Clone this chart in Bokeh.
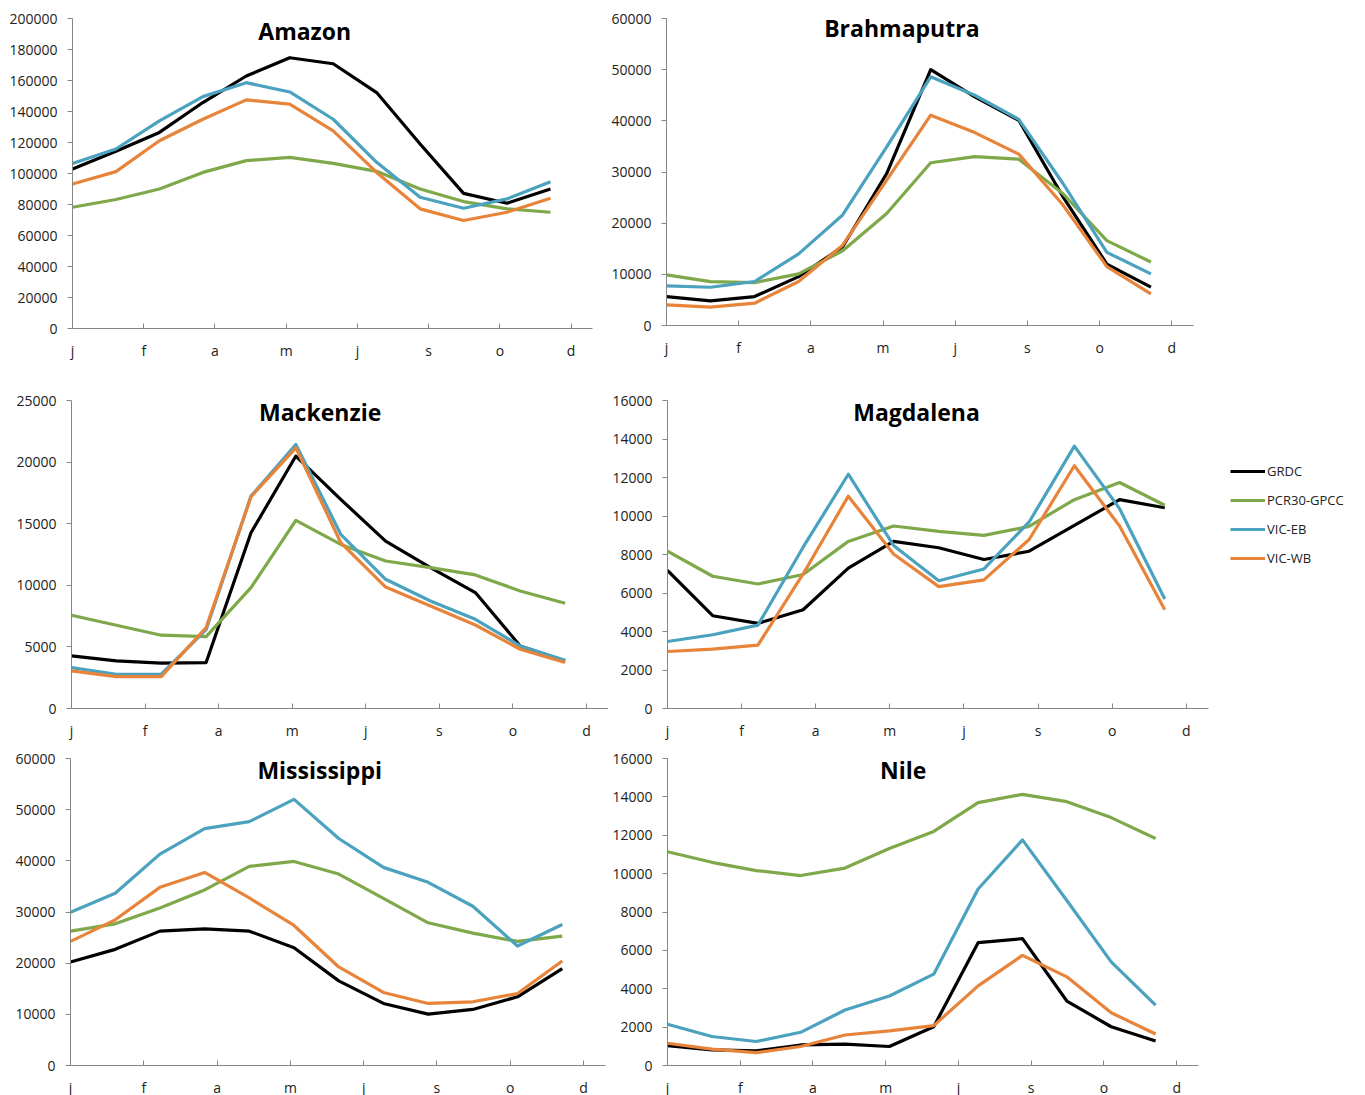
from bokeh.plotting import figure
from bokeh.layouts import column, row
from bokeh.models import FixedTicker, NumeralTickFormatter, Label, Legend, LegendItem, Range1d
from bokeh.embed import file_html
from bokeh.resources import INLINE

# ---------------- data ----------------
month_pos = [0, 30.5, 61, 91.5, 122, 152.5, 183, 213.5, 244, 274.5, 305, 335.5]
tick_days = [0, 50, 100, 150, 200, 250, 300, 350]
tick_letters = ["j", "f", "a", "m", "j", "s", "o", "d"]
series_names = ["GRDC", "PCR30-GPCC", "VIC-EB", "VIC-WB"]
series_colors = ["#000000", "#7FA84A", "#4BA2BF", "#E8843A"]

amazon_grdc = [102900, 114300, 126500, 145800, 162900, 174700, 170800, 152200, 119000, 87200, 80800, 90000]
amazon_pcr = [78200, 83200, 90000, 100700, 108300, 110400, 106500, 101400, 90000, 81900, 77200, 75000]
amazon_eb = [106500, 115800, 134000, 149600, 158600, 152600, 135000, 107200, 84700, 77600, 83600, 94700]
amazon_wb = [93200, 101200, 121100, 135000, 147500, 144700, 127500, 100700, 77200, 69700, 75000, 84000]

brahma_grdc = [5660, 4800, 5660, 9560, 15400, 29700, 50000, 44700, 40100, 25200, 12000, 7500]
brahma_pcr = [9890, 8590, 8390, 10100, 14600, 21900, 31800, 33000, 32500, 25800, 16600, 12400]
brahma_eb = [7740, 7480, 8600, 14000, 21600, 34900, 48600, 45000, 40300, 27800, 14300, 10100]
brahma_wb = [4030, 3580, 4360, 8600, 15700, 28400, 41100, 37700, 33500, 23600, 11500, 6180]

mack_grdc = [4270, 3860, 3680, 3730, 14270, 20490, 16970, 13590, 11430, 9410, 5080, 3860]
mack_pcr = [7570, 6760, 5950, 5840, 9810, 15270, 13320, 11970, 11430, 10840, 9540, 8540]
mack_eb = [3320, 2780, 2780, 6400, 17240, 21430, 14140, 10490, 8730, 7240, 5080, 3920]
mack_wb = [3050, 2590, 2590, 6570, 17190, 21160, 13460, 9860, 8320, 6780, 4810, 3730]

magd_grdc = [7170, 4820, 4420, 5130, 7290, 8680, 8350, 7740, 8170, 9510, 10850, 10430]
magd_pcr = [8170, 6870, 6470, 6960, 8680, 9480, 9200, 8990, 9460, 10850, 11740, 10560]
magd_eb = [3480, 3830, 4330, 8380, 12170, 8470, 6640, 7250, 9690, 13630, 10380, 5690]
magd_wb = [2960, 3080, 3290, 6990, 11030, 8030, 6330, 6680, 8780, 12610, 9480, 5130]

miss_grdc = [20230, 22700, 26260, 26720, 26260, 23020, 16540, 12130, 10050, 10960, 13420, 18940]
miss_pcr = [26260, 27690, 30800, 34310, 38910, 39880, 37420, 32680, 27890, 25880, 24250, 25290]
miss_eb = [29960, 33660, 41310, 46300, 47670, 52010, 44360, 38720, 35800, 31130, 23350, 27560]
miss_wb = [24250, 28470, 34820, 37740, 32750, 27370, 19260, 14270, 12130, 12450, 14070, 20430]

nile_grdc = [1040, 810, 760, 1070, 1110, 990, 2020, 6400, 6610, 3360, 2020, 1280]
nile_pcr = [11140, 10590, 10160, 9900, 10290, 11310, 12200, 13700, 14130, 13750, 12920, 11830]
nile_eb = [2150, 1510, 1250, 1730, 2890, 3620, 4760, 9200, 11760, 8600, 5400, 3150]
nile_wb = [1160, 850, 670, 990, 1590, 1800, 2080, 4150, 5740, 4620, 2750, 1640]

AXIS_COL = "#868686"
TXT_COL = "#222222"
FONT = "Open Sans"


def make_panel(title, values, ymax, ystep, title_x, title_yfrac,
               left, fw, right, top, fh, bottom, legend=False):
    p = figure(frame_width=fw, frame_height=fh,
               min_border_left=left, min_border_right=right,
               min_border_top=top, min_border_bottom=bottom,
               x_range=Range1d(0, 365), y_range=Range1d(0, ymax),
               output_backend="svg", toolbar_location=None, tools="")
    p.outline_line_color = None
    p.xgrid.visible = False
    p.ygrid.visible = False
    p.background_fill_color = "white"
    p.border_fill_color = "white"

    renderers = []
    for vals, col in zip(values, series_colors):
        r = p.line(month_pos, vals, line_color=col, line_width=3.2, line_join="round")
        renderers.append(r)

    xa = p.xaxis[0]
    xa.ticker = FixedTicker(ticks=tick_days)
    xa.major_label_overrides = {d: l for d, l in zip(tick_days, tick_letters)}
    xa.axis_line_color = AXIS_COL
    xa.major_tick_line_color = AXIS_COL
    xa.major_tick_in = 5
    xa.major_tick_out = 0
    xa.minor_tick_line_color = None
    xa.major_label_standoff = 12
    xa.major_label_text_font = FONT
    xa.major_label_text_font_size = "14px"
    xa.major_label_text_color = TXT_COL

    ya = p.yaxis[0]
    ya.ticker = FixedTicker(ticks=list(range(0, ymax + 1, ystep)))
    ya.formatter = NumeralTickFormatter(format="0")
    ya.axis_line_color = AXIS_COL
    ya.major_tick_line_color = AXIS_COL
    ya.major_tick_in = 0
    ya.major_tick_out = 5
    ya.minor_tick_line_color = None
    ya.major_label_standoff = 10
    ya.major_label_text_font = FONT
    ya.major_label_text_font_size = "14px"
    ya.major_label_text_color = TXT_COL

    p.add_layout(Label(x=title_x, y=ymax * title_yfrac, text=title,
                       text_font=FONT, text_font_size="23px", text_font_style="bold",
                       text_color="#000000", text_align="center", text_baseline="middle"))

    if legend:
        items = [LegendItem(label=n, renderers=[r]) for n, r in zip(series_names, renderers)]
        lg = Legend(items=items, location=(22, 140), orientation="vertical",
                    glyph_width=35, glyph_height=20, spacing=9, label_standoff=2,
                    label_height=20, padding=0, margin=0,
                    label_text_font=FONT, label_text_font_size="13px",
                    label_text_color=TXT_COL,
                    border_line_color=None, background_fill_alpha=0)
        p.add_layout(lg, "right")
    return p


p1 = make_panel("Amazon", [amazon_grdc, amazon_pcr, amazon_eb, amazon_wb], 200000, 20000,
                163, 0.96, 72, 520, 16, 17, 310, 48)
p2 = make_panel("Brahmaputra", [brahma_grdc, brahma_pcr, brahma_eb, brahma_wb], 60000, 10000,
                163, 0.968, 57, 527, 173, 18, 307, 50)
p3 = make_panel("Mackenzie", [mack_grdc, mack_pcr, mack_eb, mack_wb], 25000, 5000,
                169, 0.964, 71, 537, 0, 25, 308, 37)
p4 = make_panel("Magdalena", [magd_grdc, magd_pcr, magd_eb, magd_wb], 16000, 2000,
                168, 0.962, 59, 541, 157, 20, 308, 42, legend=True)
p5 = make_panel("Mississippi", [miss_grdc, miss_pcr, miss_eb, miss_wb], 60000, 10000,
                170, 0.961, 70, 535, 3, 13, 307, 30)
p6 = make_panel("Nile", [nile_grdc, nile_pcr, nile_eb, nile_wb], 16000, 2000,
                162, 0.961, 59, 531, 167, 13, 307, 30)

layout = column(row(p1, p2), row(p3, p4), row(p5, p6))
open("out.html", "w").write(file_html(layout, INLINE))
